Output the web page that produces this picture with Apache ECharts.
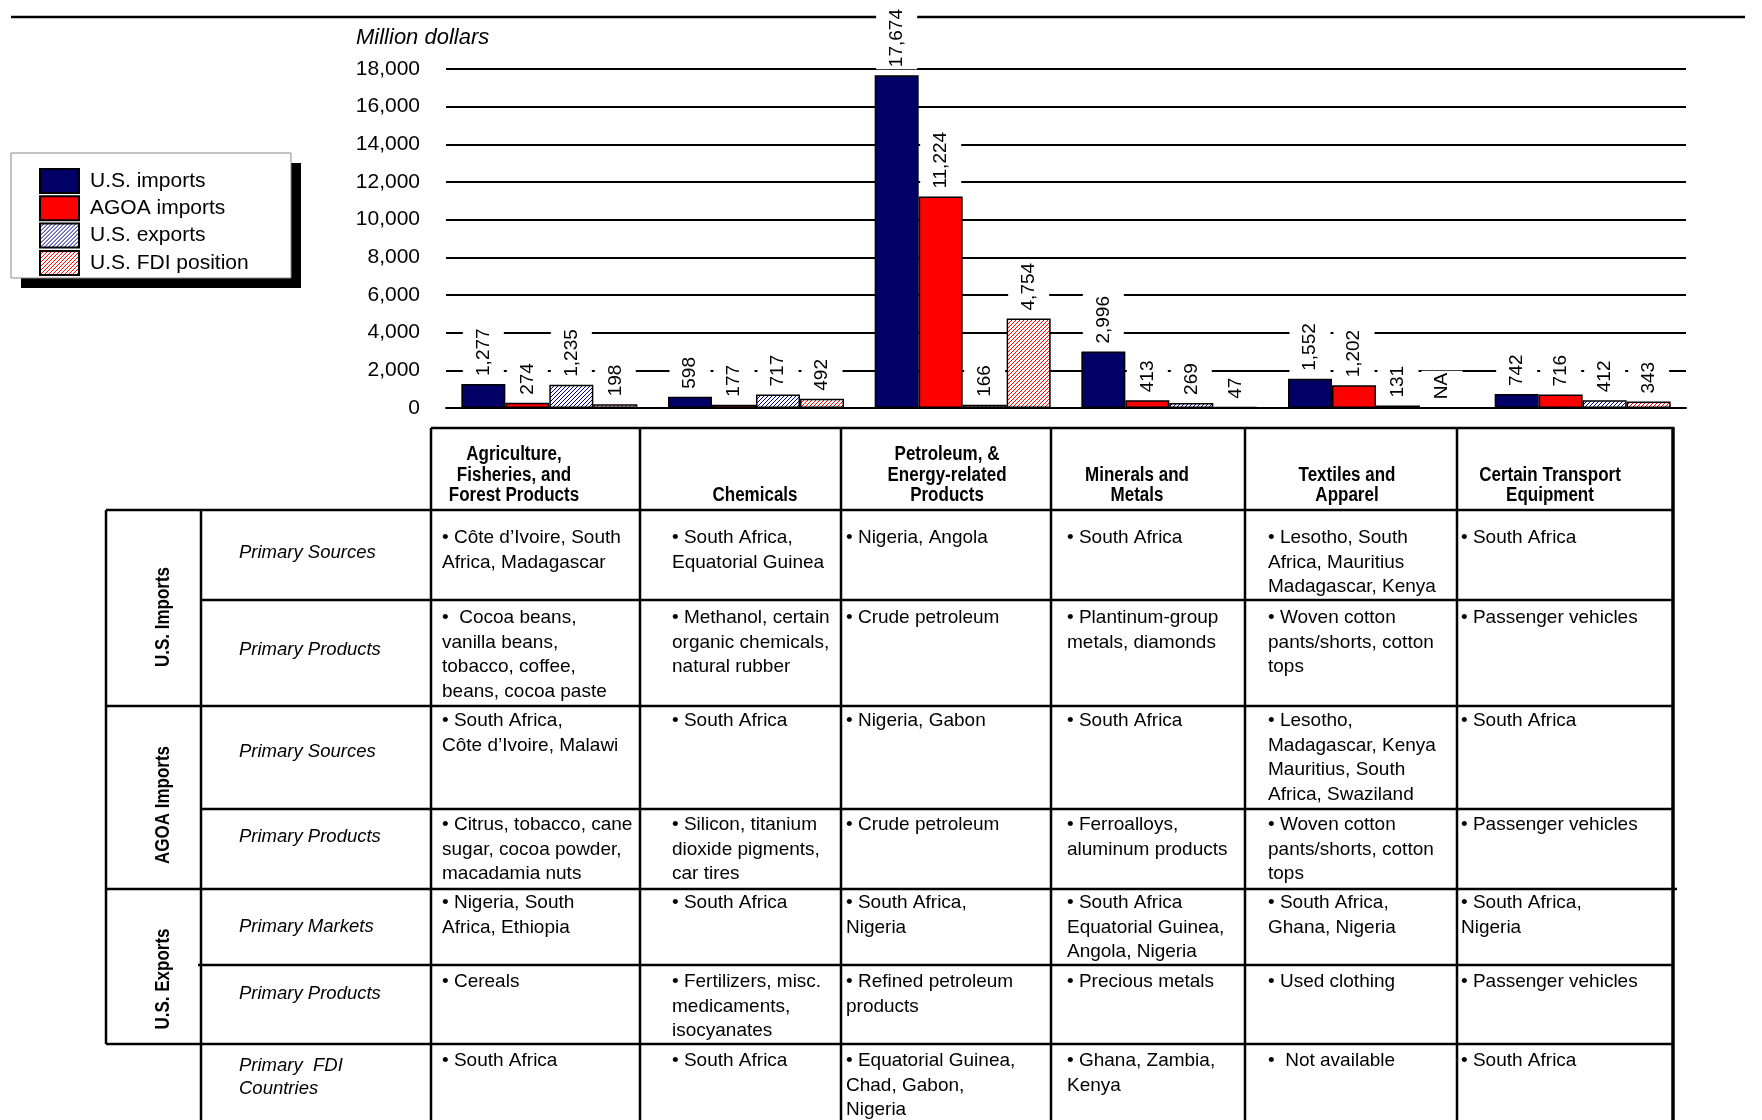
<!DOCTYPE html>
<html>
<head>
<meta charset="utf-8">
<script src="https://cdn.jsdelivr.net/npm/echarts@6/dist/echarts.min.js"></script>
<style>
html,body{margin:0;padding:0;background:#fff;}
#main{width:1762px;height:1120px;}
</style>
</head>
<body>
<div id="main"></div>
<script>
// ---------------- DATA ----------------
const categories = ['Agriculture, Fisheries, and Forest Products', 'Chemicals', 'Petroleum, & Energy-related Products', 'Minerals and Metals', 'Textiles and Apparel', 'Certain Transport Equipment'];
const headerLabels = ['Agriculture,\nFisheries, and\nForest Products', 'Chemicals', 'Petroleum, &\nEnergy-related\nProducts', 'Minerals and\nMetals', 'Textiles and\nApparel', 'Certain Transport\nEquipment'];
const seriesNames = ['U.S. imports', 'AGOA imports', 'U.S. exports', 'U.S. FDI position'];
const usImports = [1277, 598, 17674, 2996, 1552, 742];
const agoaImports = [274, 177, 11224, 413, 1202, 716];
const usExports = [1235, 717, 166, 269, 131, 412];
const fdiPosition = [198, 492, 4754, 47, null, 343]; // null = NA
const yAxisName = 'Million dollars';
const yTickStep = 2000;
const yMax = 18000;

const rowGroups = ['U.S. Imports', 'AGOA Imports', 'U.S. Exports'];
const rowLabels = ['Primary Sources', 'Primary Products', 'Primary Sources', 'Primary Products', 'Primary Markets', 'Primary Products', 'Primary  FDI\nCountries'];
const row1 = ['• Côte d\u2019Ivoire, South\nAfrica, Madagascar', '• South Africa,\nEquatorial Guinea', '• Nigeria, Angola', '• South Africa', '• Lesotho, South\nAfrica, Mauritius\nMadagascar, Kenya', '• South Africa'];
const row2 = ['•  Cocoa beans,\nvanilla beans,\ntobacco, coffee,\nbeans, cocoa paste', '• Methanol, certain\norganic chemicals,\nnatural rubber', '• Crude petroleum', '• Plantinum-group\nmetals, diamonds', '• Woven cotton\npants/shorts, cotton\ntops', '• Passenger vehicles'];
const row3 = ['• South Africa,\nCôte d\u2019Ivoire, Malawi', '• South Africa', '• Nigeria, Gabon', '• South Africa', '• Lesotho,\nMadagascar, Kenya\nMauritius, South\nAfrica, Swaziland', '• South Africa'];
const row4 = ['• Citrus, tobacco, cane\nsugar, cocoa powder,\nmacadamia nuts', '• Silicon, titanium\ndioxide pigments,\ncar tires', '• Crude petroleum', '• Ferroalloys,\naluminum products', '• Woven cotton\npants/shorts, cotton\ntops', '• Passenger vehicles'];
const row5 = ['• Nigeria, South\nAfrica, Ethiopia', '• South Africa', '• South Africa,\nNigeria', '• South Africa\nEquatorial Guinea,\nAngola, Nigeria', '• South Africa,\nGhana, Nigeria', '• South Africa,\nNigeria'];
const row6 = ['• Cereals', '• Fertilizers, misc.\nmedicaments,\nisocyanates', '• Refined petroleum\nproducts', '• Precious metals', '• Used clothing', '• Passenger vehicles'];
const row7 = ['• South Africa', '• South Africa', '• Equatorial Guinea,\nChad, Gabon,\nNigeria', '• Ghana, Zambia,\nKenya', '•  Not available', '• South Africa'];
const tableRows = [row1, row2, row3, row4, row5, row6, row7];

// ---------------- LAYOUT (pixels) ----------------
const colX = [431, 640, 841, 1051, 1245, 1457, 1673];
const rowY = [428, 510, 600, 706, 809, 889, 965, 1044];
const textX = [442, 672, 846, 1067, 1268, 1461];
const firstLineY = [538, 618, 721, 825, 903, 982, 1061];
const labelY = [553, 650, 752, 837, 927, 994, 1077];
const headerCX = [514, 755, 947, 1137, 1347, 1550];
const groupY = [617, 805, 979];
const LH = 24.6;
const FONT = '"Liberation Sans", Arial, sans-serif';

function hatch(color) {
  const c = document.createElement('canvas');
  c.width = 4; c.height = 4;
  const ctx = c.getContext('2d');
  ctx.fillStyle = '#fff';
  ctx.fillRect(0, 0, 4, 4);
  ctx.strokeStyle = color;
  ctx.lineWidth = 1;
  ctx.beginPath();
  ctx.moveTo(0, 4); ctx.lineTo(4, 0);
  ctx.moveTo(-1, 1); ctx.lineTo(1, -1);
  ctx.moveTo(3, 5); ctx.lineTo(5, 3);
  ctx.stroke();
  return c;
}

const fills = ['#000066', '#ff0000', {image: hatch('#000080'), repeat: 'repeat'}, {image: hatch('#ff0000'), repeat: 'repeat'}];
const values = [usImports, agoaImports, usExports, fdiPosition];

function fmt(v) { return v == null ? 'NA' : v.toLocaleString('en-US'); }

const series = values.map((arr, i) => ({
  name: seriesNames[i],
  type: 'bar',
  barWidth: 44,
  barGap: '0%',
  itemStyle: {color: fills[i], borderColor: '#000', borderWidth: 1.5},
  label: {
    show: true, position: 'top', rotate: 90, align: 'left', verticalAlign: 'middle',
    distance: 6, fontSize: 19, fontFamily: FONT, color: '#000',
    backgroundColor: '#fff', padding: [11, 2, 11, 2]
  },
  data: arr.map(v => v == null ? {value: 0, label: {formatter: 'NA'}} : {value: v, label: {formatter: fmt(v)}})
}));

// ---------------- GRAPHICS (table, legend box) ----------------
const g = [];
function line(x1, y1, x2, y2, w) {
  g.push({type: 'line', z: 1, shape: {x1, y1, x2, y2}, style: {stroke: '#000', lineWidth: w || 2.5}});
}
// legend box with hard shadow
g.push({type: 'rect', z: 0, shape: {x: 21, y: 163, width: 280, height: 125}, style: {fill: '#000'}});
g.push({type: 'rect', z: 0, shape: {x: 11, y: 153, width: 280, height: 125}, style: {fill: '#fff', stroke: '#888', lineWidth: 1}});
// top rule
line(11, 17, 1745, 17, 2.5);
// verticals
colX.forEach((x, i) => line(x, rowY[0], x, 1120, i === colX.length - 1 ? 3.5 : 2.5));
line(201, rowY[1], 201, 1120);
line(106, rowY[1], 106, rowY[7]);
// horizontals
line(colX[0], rowY[0], colX[6] + 1.5, rowY[0]);
line(106, rowY[1], colX[6], rowY[1]);
line(201, rowY[2], colX[6], rowY[2]);
line(106, rowY[3], colX[6], rowY[3]);
line(201, rowY[4], colX[6], rowY[4]);
line(106, rowY[5], colX[6] + 4, rowY[5]);
line(198, rowY[6], colX[6], rowY[6]);
line(106, rowY[7], colX[6], rowY[7]);

// header texts (condensed bold)
headerLabels.forEach((t, i) => {
  g.push({type: 'text', z: 3, x: headerCX[i], y: 506, scaleX: 0.85,
    style: {text: t, x: 0, y: 0, align: 'center', verticalAlign: 'bottom',
    fontSize: 20, fontWeight: 'bold', fontFamily: FONT, lineHeight: 20.5, fill: '#000'}});
});
// group labels
rowGroups.forEach((t, i) => {
  g.push({type: 'text', z: 3, x: 163, y: groupY[i], rotation: Math.PI / 2, scaleX: 0.85,
    style: {text: t, x: 0, y: 0, align: 'center', verticalAlign: 'middle', fontSize: 20, fontWeight: 'bold', fontFamily: FONT, fill: '#000'}});
});
// row labels
rowLabels.forEach((t, i) => {
  g.push({type: 'text', z: 3, style: {text: t, x: 239, y: labelY[i], align: 'left', verticalAlign: 'middle',
    fontSize: 18.5, fontStyle: 'italic', fontFamily: FONT, lineHeight: 23, fill: '#000'}});
});
// cells
tableRows.forEach((row, r) => {
  row.forEach((t, c) => {
    g.push({type: 'text', z: 3, style: {text: t, x: textX[c], y: firstLineY[r] - LH / 2, align: 'left', verticalAlign: 'top',
      fontSize: 19, fontFamily: FONT, lineHeight: LH, fill: '#000'}});
  });
});
// axis name
g.push({type: 'text', z: 3, style: {text: yAxisName, x: 356, y: 38, align: 'left', verticalAlign: 'middle',
  fontSize: 22, fontStyle: 'italic', fontFamily: FONT, fill: '#000'}});

const chart = echarts.init(document.getElementById('main'), null, {renderer: 'canvas'});
chart.setOption({
  animation: false,
  backgroundColor: '#fff',
  grid: {left: 446, top: 69, width: 1240, height: 339, containLabel: false},
  legend: {
    orient: 'vertical', left: 11, top: 153, z: 5,
    data: seriesNames,
    itemWidth: 39, itemHeight: 24, itemGap: 1.3,
    padding: [15, 44, 12, 28],
    backgroundColor: 'transparent', borderWidth: 0,
    icon: 'rect',
    textStyle: {fontSize: 21, lineHeight: 24, fontFamily: FONT, color: '#000', padding: [0, 0, 0, 6]},
    selectedMode: false
  },
  xAxis: {
    type: 'category', data: categories,
    axisLine: {show: true, lineStyle: {color: '#000', width: 2}},
    axisTick: {show: false}, axisLabel: {show: false}, splitLine: {show: false}
  },
  yAxis: {
    type: 'value', min: 0, max: yMax, interval: yTickStep,
    axisLine: {show: false}, axisTick: {show: false},
    axisLabel: {fontSize: 21, fontFamily: FONT, color: '#000', margin: 26, formatter: v => v.toLocaleString('en-US')},
    splitLine: {show: true, lineStyle: {color: '#000', width: 2}}
  },
  series: series,
  graphic: g
});
</script>
</body>
</html>
